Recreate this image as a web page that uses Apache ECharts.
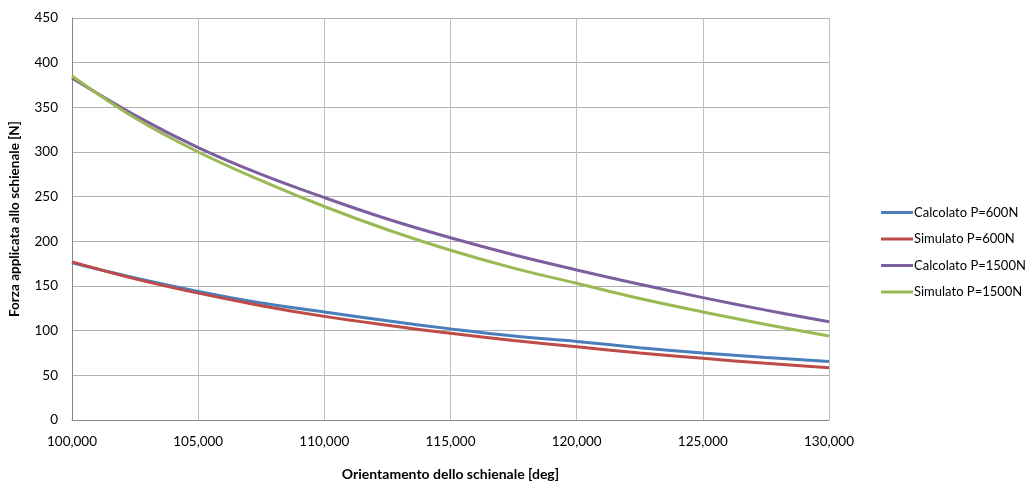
<!DOCTYPE html>
<html><head><meta charset="utf-8">
<script src="https://cdn.jsdelivr.net/npm/echarts@6/dist/echarts.min.js"></script>
<style>html,body{margin:0;padding:0;background:#fff}#c{width:1026px;height:481px}</style>
</head><body><div id="c"></div>
<script>
const angles = [100, 102.5, 105, 107.5, 110, 112.5, 115, 117.5, 120, 122.5, 125, 127.5, 130];
const calc600 = [176, 159, 144, 131, 121, 111, 102, 94, 88, 81, 75, 70, 65.5];
const sim600 = [177, 158, 142, 128, 116, 106, 97, 89, 82, 75, 69, 63.5, 58.5];
const calc1500 = [383, 341, 305, 275, 249, 225, 204, 185, 168, 152, 137, 123, 110];
const sim1500 = [385, 338, 300, 268, 239, 213, 190, 170, 153, 136, 121, 107, 94];
const seriesNames = ['Calcolato P=600N', 'Simulato P=600N', 'Calcolato P=1500N', 'Simulato P=1500N'];
const colors = ['#4a7ebb', '#be4b48', '#7d5fa0', '#98b954'];
const allData = [calc600, sim600, calc1500, sim1500];

const font = 'Lato, "Open Sans", sans-serif';
const chart = echarts.init(document.getElementById('c'));
chart.setOption({
  animation: false,
  textStyle: { fontFamily: font },
  grid: { left: 72, right: 197, top: 18, bottom: 61, outerBoundsMode: 'none', containLabel: false },
  legend: {
    orient: 'vertical', left: 876, top: 201, itemWidth: 32, itemHeight: 3, itemGap: 13.5,
    icon: 'rect',
    textStyle: { fontSize: 13, color: '#000', fontFamily: font, padding: [0, 0, 0, -4] },
    data: seriesNames
  },
  xAxis: {
    type: 'value', min: 100, max: 130, interval: 5,
    name: 'Orientamento dello schienale [deg]', nameLocation: 'middle', nameGap: 47,
    nameTextStyle: { fontWeight: 'bold', fontSize: 14, color: '#000', fontFamily: font },
    axisLine: { show: true, lineStyle: { color: '#868686' } },
    axisTick: { show: false },
    axisLabel: { color: '#000', fontSize: 13.5, margin: 15, fontFamily: font,
      formatter: v => v.toFixed(0) + ',000' },
    splitLine: { show: true, lineStyle: { color: '#bfbfbf' } }
  },
  yAxis: {
    type: 'value', min: 0, max: 450, interval: 50,
    name: 'Forza applicata allo schienale [N]', nameLocation: 'middle', nameGap: 50,
    nameTextStyle: { fontWeight: 'bold', fontSize: 13.5, color: '#000', fontFamily: font },
    axisLine: { show: true, lineStyle: { color: '#868686' } },
    axisTick: { show: false },
    axisLabel: { color: '#000', fontSize: 13.5, margin: 14, fontFamily: font },
    splitLine: { show: true, lineStyle: { color: '#b0b0b0' } }
  },
  series: allData.map((d, i) => ({
    name: seriesNames[i], type: 'line', smooth: 0.4, showSymbol: false, symbol: 'none',
    data: angles.map((a, j) => [a, d[j]]),
    lineStyle: { width: 3, color: colors[i] }, itemStyle: { color: colors[i] },
    z: 2 + i
  }))
});
</script></body></html>
